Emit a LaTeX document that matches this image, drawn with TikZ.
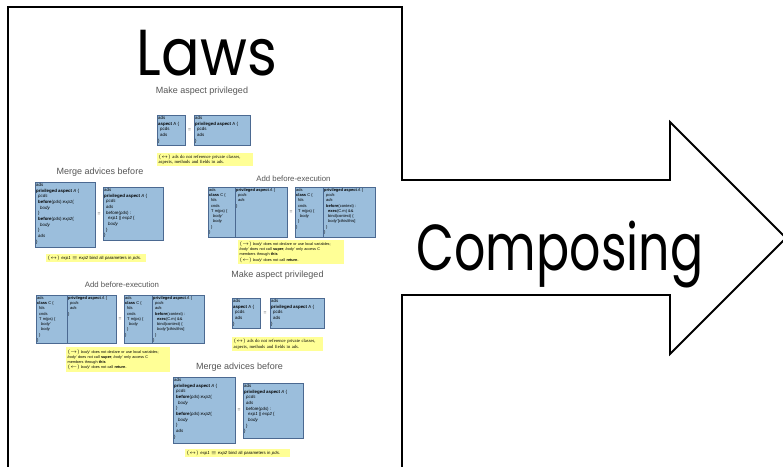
\documentclass[tikz,border=0pt]{standalone}
\usepackage{fontspec}
\usepackage{amsmath}
\usepackage{xcolor}
\usepackage{tikz}
\newfontfamily\handfont{Poppins}
\newfontfamily\folienfont{Liberation Sans}
\newfontfamily\notizfont{Liberation Serif}
\definecolor{kastenblau}{RGB}{155,190,220}
\definecolor{kastenrand}{RGB}{75,105,145}
\definecolor{notizgelb}{RGB}{255,255,150}
\definecolor{titelgrau}{RGB}{85,85,85}
\newcommand{\einzug}{\hspace*{2pt}}
\tikzset{
  titel/.style={font=\folienfont\fontsize{9}{9}\selectfont, text=titelgrau, inner sep=0pt},
  kasten/.style={draw=kastenrand, fill=kastenblau, line width=0.5pt},
  code/.style={font=\folienfont\fontsize{4.4}{5.7}\selectfont, align=left, anchor=north west, inner sep=1pt},
  codeklein/.style={code, font=\folienfont\fontsize{4}{5.3}\selectfont},
  notiz/.style={fill=notizgelb, anchor=north west, align=left, inner sep=1.5pt, font=\folienfont\fontsize{3.8}{5.2}\selectfont},
  notizserif/.style={notiz, font=\notizfont\fontsize{4.6}{5.4}\selectfont},
  gleich/.style={font=\folienfont\fontsize{5}{5}\selectfont, text=titelgrau, inner sep=0pt},
  gross/.style={font=\handfont\fontsize{65}{65}\selectfont, anchor=base, inner sep=0pt},
}

\begin{document}
\begin{tikzpicture}[x=1pt,y=-1pt]
  \useasboundingbox (0,0) rectangle (783,466);
  % Blatt mit Pfeil nach rechts
  \draw[line width=2.2pt] (8,470) -- (8,7) -- (402,7) -- (402,180);
  \draw[line width=2.2pt] (402,470) -- (402,295);
  \draw[line width=1.8pt, line join=miter] (401,180) -- (670,180) -- (670,122) -- (786,238)
    -- (670,354) -- (670,295) -- (401,295);
  \node[gross, xscale=0.88] (laws) at (207,75) {Laws};
  \node[gross, xscale=0.755] (composing) at (560,270) {Composing};

  % Folie 1: Make aspect privileged (oben)
  \node[titel] (t1) at (202,91) {Make aspect privileged};
  \draw[kasten] (157,115) rectangle (185,145);
  \node[code] (k1a) at (157,115) {ads\\\textbf{aspect} A \{\\\einzug pcds\\\einzug ads\\\}};
  \node[gleich] (g1) at (189.5,130) {=};
  \draw[kasten] (194,115) rectangle (250,145);
  \node[code] (k1b) at (194,115) {ads\\\textbf{privileged aspect} A \{\\\einzug pcds\\\einzug ads\\\}};
  \node[notizserif, text width=93, minimum height=13] (n1) at (157,153)
    {$(\leftrightarrow)$ ads do not reference private classes,\\aspects, methods and fields in ads.};

  % Folie 2: Merge advices before (links)
  \node[titel] (t2) at (100,172) {Merge advices before};
  \draw[kasten] (35,182) rectangle (95,247);
  \node[code] (k2a) at (35,182) {ads\\\textbf{privileged aspect} \textit{A} \{\\\einzug\textit{pcds}\\
    \einzug\textbf{before}(\textit{pds}):\textit{exp1}\{\\\einzug\einzug\textit{body}\\\einzug\}\\
    \einzug\textbf{before}(\textit{pds}):\textit{exp2}\{\\\einzug\einzug\textit{body}\\\einzug\}\\
    \einzug\textit{ads}\\\}};
  \node[gleich] (g2) at (99,214) {=};
  \draw[kasten] (103,187) rectangle (163,240);
  \node[code] (k2b) at (103,187) {ads\\\textbf{privileged aspect} \textit{A} \{\\\einzug\textit{pcds}\\
    \einzug\textit{ads}\\\einzug before(\textit{pds}) :\\\einzug\einzug\textit{exp1} || \textit{exp2} \{\\
    \einzug\einzug\textit{body}\\\einzug\}\\\}};
  \node[notiz, font=\folienfont\fontsize{4.3}{5}\selectfont, text width=97, minimum height=7] (n2) at (46,254)
    {$(\leftrightarrow)$ \textit{exp1} $\equiv$ \textit{exp2} bind all parameters in \textit{pds}.};

  % Folie 3: Add before-execution (rechts oben)
  \node[titel, font=\folienfont\fontsize{7.8}{8}\selectfont] (t3) at (293.5,179) {Add before-execution};
  \draw[kasten] (208,187) rectangle (287,237);
  \draw[kastenrand, line width=0.5pt] (235,187) -- (235,237);
  \node[codeklein] (k3a) at (208,187) {ads\\\textbf{class} C \{\\\einzug fds\\\einzug cnds\\
    \einzug T m(ps) \{\\\einzug\einzug\textit{body'}\\\einzug\einzug\textit{body}\\\einzug\}\\\}};
  \node[codeklein] (k3b) at (235,187) {\textbf{privileged aspect} \textit{A} \{\\\einzug\textit{pcds}\\\einzug\textit{ads}\\\}};
  \node[gleich] (g3) at (291,212) {=};
  \draw[kasten] (295,187) rectangle (375,237);
  \draw[kastenrand, line width=0.5pt] (323,187) -- (323,237);
  \node[codeklein] (k3c) at (295,187) {ads\\\textbf{class} C \{\\\einzug fds\\\einzug cnds\\
    \einzug T m(ps) \{\\\einzug\einzug\textit{body}\\\einzug\}\\\}};
  \node[codeklein] (k3d) at (323,187) {\textbf{privileged aspect} \textit{A} \{\\\einzug\textit{pcds}\\\einzug\textit{ads}\\
    \einzug\textbf{before}(context) :\\\einzug\einzug\textbf{exec}(C.m) \&\&\\\einzug\einzug bind(context) \{\\
    \einzug\einzug\textit{body'}[cthis/this]\\\einzug\}\\\}};
  \node[notiz, text width=103, minimum height=23] (n3) at (238,240)
    {$(\rightarrow)$ \textit{body'} does not declare or use local variables;\\
     \textit{body'} does not call \textbf{super}; \textit{body'} only access C\\
     members through \textbf{this}\\
     $(\leftarrow)$ \textit{body'} does not call \textbf{return}.};

  % Folie 4: Make aspect privileged (rechts Mitte)
  \node[titel] (t4) at (277.5,275) {Make aspect privileged};
  \draw[kasten] (232,298) rectangle (260,328);
  \node[code] (k4a) at (232,298) {ads\\\textbf{aspect} A \{\\\einzug pcds\\\einzug ads\\\}};
  \node[gleich] (g4) at (265,313) {=};
  \draw[kasten] (270,298) rectangle (324,328);
  \node[code] (k4b) at (270,298) {ads\\\textbf{privileged aspect} A \{\\\einzug pcds\\\einzug ads\\\}};
  \node[notizserif, text width=88, minimum height=14] (n4) at (232,337)
    {$(\leftrightarrow)$ ads do not reference private classes,\\aspects, methods and fields in ads.};

  % Folie 5: Add before-execution (links Mitte)
  \node[titel, font=\folienfont\fontsize{7.8}{8}\selectfont] (t5) at (122,285) {Add before-execution};
  \draw[kasten] (36,295) rectangle (116,343);
  \draw[kastenrand, line width=0.5pt] (67,295) -- (67,343);
  \node[codeklein] (k5a) at (36,295) {ads\\\textbf{class} C \{\\\einzug fds\\\einzug cnds\\
    \einzug T m(ps) \{\\\einzug\einzug\textit{body'}\\\einzug\einzug\textit{body}\\\einzug\}\\\}};
  \node[codeklein] (k5b) at (67,295) {\textbf{privileged aspect} \textit{A} \{\\\einzug\textit{pcds}\\\einzug\textit{ads}\\\}};
  \node[gleich] (g5) at (120,319) {=};
  \draw[kasten] (124,295) rectangle (204,343);
  \draw[kastenrand, line width=0.5pt] (152,295) -- (152,343);
  \node[codeklein] (k5c) at (124,295) {ads\\\textbf{class} C \{\\\einzug fds\\\einzug cnds\\
    \einzug T m(ps) \{\\\einzug\einzug\textit{body}\\\einzug\}\\\}};
  \node[codeklein] (k5d) at (152,295) {\textbf{privileged aspect} \textit{A} \{\\\einzug\textit{pcds}\\\einzug\textit{ads}\\
    \einzug\textbf{before}(context) :\\\einzug\einzug\textbf{exec}(C.m) \&\&\\\einzug\einzug bind(context) \{\\
    \einzug\einzug\textit{body'}[cthis/this]\\\einzug\}\\\}};
  \node[notiz, text width=101, minimum height=25] (n5) at (66,347)
    {$(\rightarrow)$ \textit{body'} does not declare or use local variables;\\
     \textit{body'} does not call \textbf{super}; \textit{body'} only access C\\
     members through \textbf{this}\\
     $(\leftarrow)$ \textit{body'} does not call \textbf{return}.};

  % Folie 6: Merge advices before (unten)
  \node[titel] (t6) at (239.5,367) {Merge advices before};
  \draw[kasten] (173,377) rectangle (235,443);
  \node[code] (k6a) at (173,377) {ads\\\textbf{privileged aspect} \textit{A} \{\\\einzug\textit{pcds}\\
    \einzug\textbf{before}(\textit{pds}):\textit{exp1}\{\\\einzug\einzug\textit{body}\\\einzug\}\\
    \einzug\textbf{before}(\textit{pds}):\textit{exp2}\{\\\einzug\einzug\textit{body}\\\einzug\}\\
    \einzug\textit{ads}\\\}};
  \node[gleich] (g6) at (239,410) {=};
  \draw[kasten] (243,383) rectangle (303,438);
  \node[code] (k6b) at (243,383) {ads\\\textbf{privileged aspect} \textit{A} \{\\\einzug\textit{pcds}\\
    \einzug\textit{ads}\\\einzug before(\textit{pds}) :\\\einzug\einzug\textit{exp1} || \textit{exp2} \{\\
    \einzug\einzug\textit{body}\\\einzug\}\\\}};
  \node[notiz, font=\folienfont\fontsize{4.3}{5}\selectfont, text width=102, minimum height=7] (n6) at (185,449)
    {$(\leftrightarrow)$ \textit{exp1} $\equiv$ \textit{exp2} bind all parameters in \textit{pds}.};
\end{tikzpicture}
\end{document}
